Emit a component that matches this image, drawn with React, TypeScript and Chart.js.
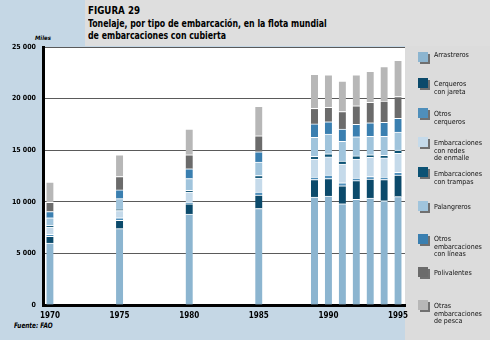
import React, { useEffect, useRef } from 'react';
import { Chart, registerables } from 'chart.js';

Chart.register(...registerables);

const FONT = "'Liberation Sans Narrow', 'DejaVu Sans Condensed', 'Liberation Sans', sans-serif";

// Category axis (every year) and the labelled years
const axisYears = ['1970', '1971', '1972', '1973', '1974', '1975', '1976', '1977', '1978', '1979', '1980', '1981', '1982',
  '1983', '1984', '1985', '1986', '1987', '1988', '1989', '1990', '1991', '1992', '1993', '1994', '1995'];
const tickYears = ['1970', '1975', '1980', '1985', '1990', '1995'];
const yTicks = [0, 5000, 10000, 15000, 20000, 25000];

// Years that have a bar
const barYears = ['1970', '1975', '1980', '1985', '1989', '1990', '1991', '1992', '1993', '1994', '1995'];

// Tonnage (miles) per vessel type
const arrastreros = [6000, 7400, 8800, 9350, 10450, 10550, 9800, 10250, 10350, 10100, 10500];
const cerquerosJareta = [650, 800, 1000, 1300, 1700, 1700, 1750, 1800, 1850, 2050, 2100];
const otrosCerqueros = [200, 250, 100, 300, 250, 350, 300, 250, 250, 250, 250];
const redesEnmalle = [700, 700, 1050, 1350, 1750, 1750, 1800, 1850, 1850, 1850, 1850];
const trampas = [150, 150, 150, 250, 250, 300, 300, 300, 250, 250, 300];
const palangreros = [750, 1000, 1150, 1300, 1850, 1900, 1900, 1850, 1800, 1850, 1750];
const lineas = [600, 850, 950, 1000, 1300, 1200, 1200, 1200, 1300, 1350, 1350];
const polivalentes = [900, 1300, 1350, 1550, 1500, 1400, 1700, 1800, 2000, 2050, 2100];
const otrasPesca = [1950, 2100, 2500, 2850, 3300, 3150, 2950, 3000, 3000, 3350, 3500];

const seriesNames = [
  'Arrastreros',
  'Cerqueros\ncon jareta',
  'Otros\ncerqueros',
  'Embarcaciones\ncon redes\nde enmalle',
  'Embarcaciones\ncon trampas',
  'Palangreros',
  'Otros\nembarcaciones\ncon líneas',
  'Polivalentes',
  'Otras\nembarcaciones\nde pesca',
];
const seriesValues = [arrastreros, cerquerosJareta, otrosCerqueros, redesEnmalle, trampas, palangreros, lineas, polivalentes, otrasPesca];
const seriesColors = ['#8cb5d0', '#0b4a6b', '#4f8fbb', '#c5daea', '#0c5274', '#a0c4dc', '#3a7fb0', '#6b6b6b', '#b7b7b7'];

// legend layout (px)
const legendSwatchTop = [52, 78, 108, 137, 167, 201, 234, 267, 300];
const legendTextCenter = [56, 85, 115, 144, 175, 208, 240, 274, 307];

function fmt(v: number): string {
  return String(v).replace(/\B(?=(\d{3})+(?!\d))/g, ' ');
}

export default function App() {
  const ref = useRef<HTMLCanvasElement>(null);

  useEffect(() => {
    document.body.style.margin = '0';
    const ctx = ref.current;
    if (!ctx) return;
    const datasets = seriesNames.map((name, i) => ({
      label: name.replace(/\n/g, ' '),
      data: axisYears.map((y) => {
        const k = barYears.indexOf(y);
        return k >= 0 ? seriesValues[i][k] : null;
      }),
      backgroundColor: seriesColors[i],
      borderColor: '#ffffff',
      borderWidth: { top: 1, right: 0, bottom: 0, left: 0 },
      borderSkipped: false as const,
      barThickness: 7,
    }));
    const chart = new Chart(ctx, {
      type: 'bar',
      data: { labels: axisYears, datasets },
      options: {
        animation: false,
        responsive: false,
        devicePixelRatio: 1,
        layout: { padding: { left: 0, top: 47, right: 85, bottom: 0 } },
        plugins: { legend: { display: false }, tooltip: { enabled: false } },
        scales: {
          x: {
            stacked: true,
            offset: true,
            grid: { display: false, drawTicks: false },
            border: { display: true, color: '#000000', width: 3 },
            afterFit: (s: any) => { s.height = 35; },
            ticks: {
              autoSkip: false,
              maxRotation: 0,
              padding: 6,
              color: '#000',
              font: { family: FONT, size: 8, weight: 'bold' },
              callback: (_v: any, i: number) => (tickYears.includes(axisYears[i]) ? axisYears[i] : ''),
            },
          },
          y: {
            stacked: true,
            min: 0,
            max: 25000,
            afterFit: (s: any) => { s.width = 43; },
            afterBuildTicks: (s: any) => { s.ticks = yTicks.map((v) => ({ value: v })); },
            grid: { color: '#5a5a5a', lineWidth: 1, drawTicks: false },
            border: { display: true, color: '#000000', width: 3 },
            ticks: {
              padding: 7,
              color: '#000',
              font: { family: FONT, size: 7, weight: 'bold' },
              callback: (v: any) => fmt(Number(v)),
            },
          },
        },
      },
    });
    return () => chart.destroy();
  }, []);

  return (
    <div style={{ position: 'fixed', left: 0, top: 0, width: 490, height: 340, background: '#c5d7e5', overflow: 'hidden', fontFamily: FONT }}>
      <div style={{ position: 'absolute', left: 85, top: 0, width: 405, height: 46, background: '#dedede' }} />
      <div style={{ position: 'absolute', left: 405, top: 46, width: 85, height: 294, background: '#dcdcdc' }} />
      <div style={{ position: 'absolute', left: 43, top: 47, width: 362, height: 258, background: '#ffffff' }} />
      <div style={{ position: 'absolute', left: 88, top: 5, fontWeight: 'bold', fontSize: 11, lineHeight: '12px', color: '#000', transform: 'scaleX(0.88)', transformOrigin: 'left top', whiteSpace: 'nowrap' }}>FIGURA 29</div>
      <div style={{ position: 'absolute', left: 88, top: 18, fontWeight: 'bold', fontSize: 10.5, lineHeight: '11.5px', color: '#000', whiteSpace: 'nowrap', transform: 'scaleX(0.83)', transformOrigin: 'left top' }}>
        Tonelaje, por tipo de embarcación, en la flota mundial<br />de embarcaciones con cubierta
      </div>
      <div style={{ position: 'absolute', left: 35, top: 34, fontWeight: 'bold', fontStyle: 'italic', fontSize: 6, color: '#000' }}>Miles</div>
      <div style={{ position: 'absolute', left: 14, top: 321, fontWeight: 'bold', fontStyle: 'italic', fontSize: 7.5, color: '#000', whiteSpace: 'nowrap', transform: 'scaleX(0.85)', transformOrigin: 'left top' }}>Fuente: FAO</div>
      <canvas ref={ref} width={490} height={340} style={{ position: 'absolute', left: 0, top: 0, width: 490, height: 340 }} />
      {seriesNames.map((name, i) => (
        <React.Fragment key={name}>
          <div style={{ position: 'absolute', left: 418, top: legendSwatchTop[i], width: 10, height: 10, background: seriesColors[i], boxShadow: '2px 2px 0 #707070' }} />
          <div style={{ position: 'absolute', left: 434, top: legendTextCenter[i] - 3.7, fontSize: 7, lineHeight: '7.4px', color: '#111', whiteSpace: 'pre' }}>{name}</div>
        </React.Fragment>
      ))}
    </div>
  );
}
